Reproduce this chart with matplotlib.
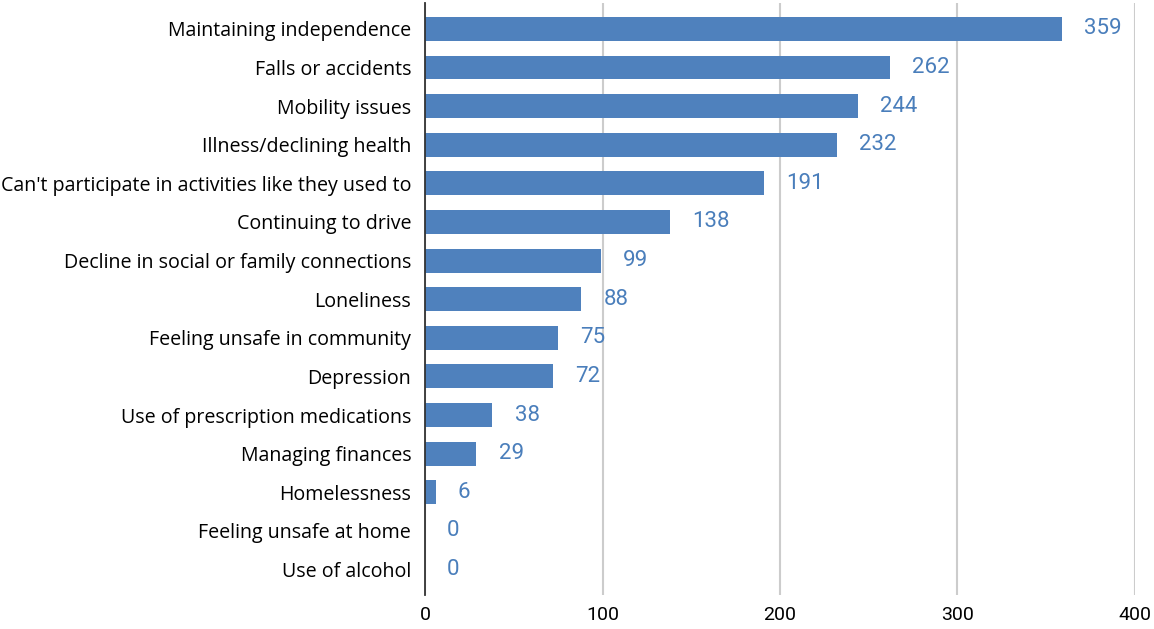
import matplotlib
matplotlib.use("Agg")
import matplotlib.pyplot as plt

categories = [
    "Maintaining independence",
    "Falls or accidents",
    "Mobility issues",
    "Illness/declining health",
    "Can't participate in activities like they used to",
    "Continuing to drive",
    "Decline in social or family connections",
    "Loneliness",
    "Feeling unsafe in community",
    "Depression",
    "Use of prescription medications",
    "Managing finances",
    "Homelessness",
    "Feeling unsafe at home",
    "Use of alcohol",
]
values = [359, 262, 244, 232, 191, 138, 99, 88, 75, 72, 38, 29, 6, 0, 0]
xticks = [0, 100, 200, 300, 400]

bar_color = "#4F81BD"
label_color = "#4A7EBB"

fig = plt.figure(figsize=(11.54, 6.29), dpi=100)
ax = fig.add_axes([0.3683, 0.054, 0.9835 - 0.3683, 0.9952 - 0.054])

y = list(range(len(categories)))
ax.barh(y, values, height=0.62, color=bar_color, zorder=3)

for yi, v in zip(y, values):
    ax.annotate(str(v), xy=(v, yi), xytext=(16, 0), textcoords="offset points",
                va="center", ha="left", color=label_color, fontsize=16,
                fontfamily="Roboto")

ax.set_xlim(0, 400)
ax.set_ylim(14.66, -0.67)
ax.set_yticks(y)
ax.set_yticklabels(categories, fontsize=14.1, fontfamily="Open Sans")
ax.set_xticks(xticks)
ax.set_xticklabels([str(t) for t in xticks], fontsize=14, fontfamily="Roboto")
ax.tick_params(axis="both", length=0)
ax.tick_params(axis="y", pad=10)
ax.tick_params(axis="x", pad=8)

for s in ["top", "right", "bottom"]:
    ax.spines[s].set_visible(False)
ax.spines["left"].set_color("#333333")
ax.spines["left"].set_linewidth(1.3)
ax.spines["left"].set_zorder(4)

ax.grid(axis="x", color="#CCCCCC", linewidth=1.5, zorder=0)
ax.grid(axis="y", visible=False)

fig.savefig("out.png", dpi=100)
